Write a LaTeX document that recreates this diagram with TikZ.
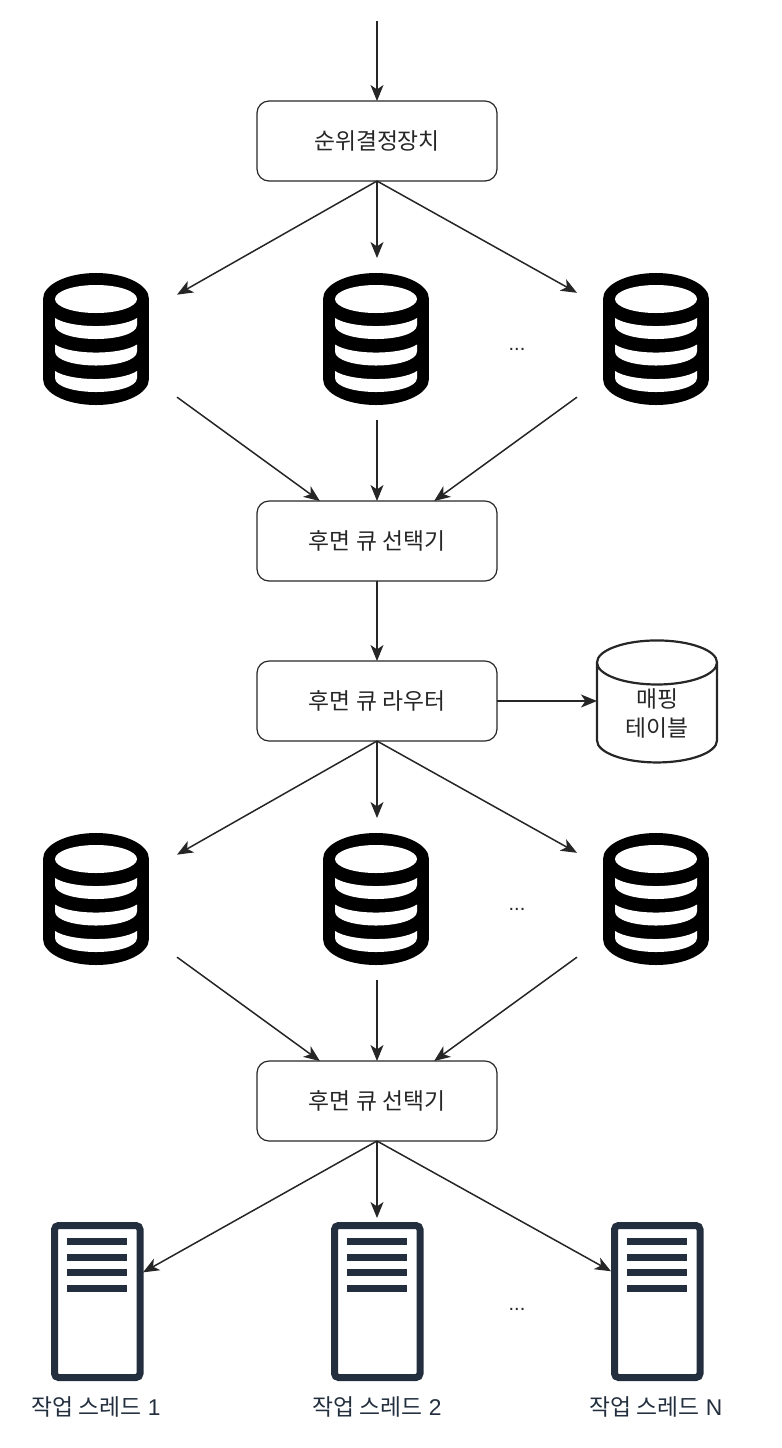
\documentclass[tikz,border=0pt]{standalone}
\usepackage{fontspec}
\setmainfont{Liberation Sans}
\newfontfamily\krfont{Noto Sans CJK KR}
\usetikzlibrary{shapes.geometric, arrows.meta}
\definecolor{workerdark}{HTML}{232F3E}

\tikzset{
  flow/.style={-{Stealth[length=8pt,width=6.5pt,inset=2.2pt]}, line width=0.75pt, draw=black!85},
  stage/.style={draw=black!85, line width=0.6pt, rounded corners=6pt, minimum width=120pt, minimum height=40pt, inner sep=0, outer sep=0, font=\krfont\fontsize{11.4}{13}\selectfont, text=black!85},
  dbslot/.style={rectangle, minimum width=80pt, minimum height=81pt, inner sep=0, outer sep=0},
  workerslot/.style={rectangle, minimum width=46pt, minimum height=82pt, inner sep=0, outer sep=0},
  caption/.style={font=\fontsize{11.4}{13}\selectfont, text=workerdark, inner sep=0},
  dots/.style={font=\fontsize{10}{12}\selectfont, text=black!85, inner sep=0},
  dbicon/.pic={
    \fill[black] (0,-40) circle [x radius=26.5pt, y radius=13pt];
    \fill[black] (0,40) circle [x radius=26.5pt, y radius=13pt];
    \fill[black] (-53,-40) rectangle (53,40);
    \fill[white] (0,-40) circle [x radius=20.5pt, y radius=7pt];
    \foreach \dy in {0,26.5,53}
      \fill[white] (-41,-21+\dy) -- (-41,-14+\dy) .. controls (-41,-5+\dy) and (-20,0+\dy) .. (0,0+\dy)
        .. controls (20,0+\dy) and (41,-5+\dy) .. (41,-14+\dy) -- (41,-21+\dy)
        .. controls (25,-10.3+\dy) and (-25,-10.3+\dy) .. cycle;
  },
  workericon/.pic={
    \draw[workerdark, line width=3.5pt, rounded corners=2pt] (-42.5,-74.5) rectangle (43,77.5);
    \foreach \dy in {0,15.7,31.4,47.1}
      \fill[workerdark] (-30,-62+\dy) rectangle (30,-55+\dy);
  }
}

\begin{document}
\begin{tikzpicture}[x=0.5pt, y=-0.5pt]
\useasboundingbox (0,0) rectangle (782,1448);

% boxes down the middle
\coordinate (start) at (377,21);
\node[stage] (ranker) at (377,141) {순위결정장치};
\node[stage] (backsel) at (377,541) {후면 큐 선택기};
\node[stage] (router) at (377,701) {후면 큐 라우터};
\node[stage] (backsel2) at (377,1101) {후면 큐 선택기};

% mapping table
\node[cylinder, shape border rotate=90, aspect=0.7, draw=black!85, line width=1.1pt, minimum width=60pt, minimum height=61pt, inner sep=0, outer sep=0, align=center, font=\krfont\fontsize{11.4}{14.5}\selectfont, text=black!85] (maptable) at (657,713) {매핑\\테이블};

% queue rows
\foreach \name/\x in {fq1/97, fq2/377, fq3/657} {
  \node[dbslot] (\name) at (\x,339) {};
  \pic at ([xshift=-0.5pt]\name) {dbicon};
}
\foreach \name/\x in {bq1/97, bq2/377, bq3/657} {
  \node[dbslot] (\name) at (\x,899) {};
  \pic at ([xshift=-0.5pt]\name) {dbicon};
}
\node[dots] (dotsa) at (517,349) {...};
\node[dots] (dotsb) at (517,909) {...};

% workers
\foreach \name/\x in {wt1/97, wt2/377, wt3/657} {
  \node[workerslot] (\name) at (\x,1300) {};
  \pic at (\name) {workericon};
}
\node[dots] (dotsc) at (517,1309) {...};
\node[caption] (cap1) at (96,1407) {{\krfont 작업 스레드} 1};
\node[caption] (cap2) at (377,1407) {{\krfont 작업 스레드} 2};
\node[caption] (cap3) at (656,1407) {{\krfont 작업 스레드} N};

% connectors
\draw[flow] (start) -- (ranker.north);
\draw[flow] (ranker.south) -- (fq1.29.4);
\draw[flow] (ranker.south) -- (fq2.north);
\draw[flow] (ranker.south) -- (fq3.150.6);
\draw[flow] (fq1.-36) -- (backsel.145);
\draw[flow] (fq2.south) -- (backsel.north);
\draw[flow] (fq3.216) -- (backsel.35);
\draw[flow] (backsel.south) -- (router.north);
\draw[flow] (router.east) -- (router.east -| maptable.west);
\draw[flow] (router.south) -- (bq1.29.4);
\draw[flow] (router.south) -- (bq2.north);
\draw[flow] (router.south) -- (bq3.150.6);
\draw[flow] (bq1.-36) -- (backsel2.145);
\draw[flow] (bq2.south) -- (backsel2.north);
\draw[flow] (bq3.216) -- (backsel2.35);
\draw[flow] (backsel2.south) -- (wt1.31.3);
\draw[flow] (backsel2.south) -- (wt2.north);
\draw[flow] (backsel2.south) -- (wt3.148.7);
\end{tikzpicture}
\end{document}
